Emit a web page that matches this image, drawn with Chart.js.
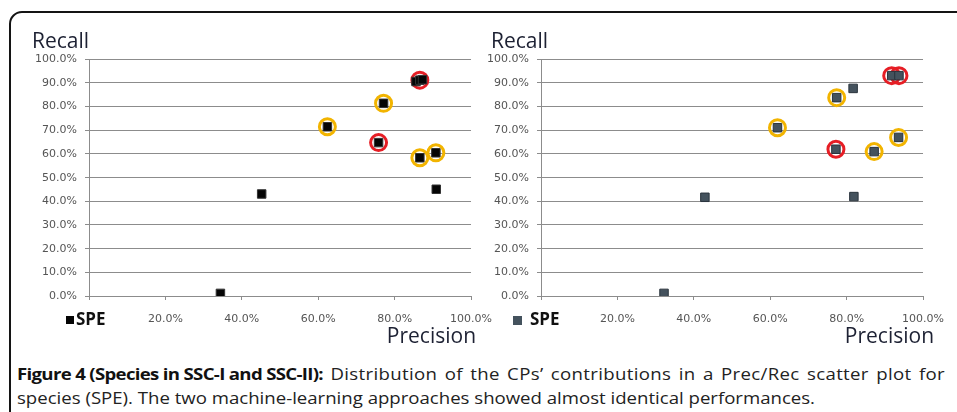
<!DOCTYPE html>
<html>
<head>
<meta charset="utf-8">
<script src="https://cdn.jsdelivr.net/npm/chart.js@4.4.1/dist/chart.umd.min.js"></script>
<style>
  html, body { margin: 0; padding: 0; background: #fff; }
  body { width: 957px; height: 412px; overflow: hidden; position: relative; }
  #frame {
    position: absolute; left: 9px; top: 11px; width: 1000px; height: 500px;
    border: 2px solid #141414; border-top-left-radius: 13px; box-sizing: border-box;
  }
  .plot { position: absolute; top: 20px; height: 330px; }
  #plotA { left: 14px; width: 491px; }
  #plotB { left: 480px; width: 477px; }
  #caption {
    position: absolute; left: 17px; top: 362px; white-space: nowrap;
    font-family: "Open Sans", sans-serif; font-size: 16px; line-height: 24px; color: #222;
    transform-origin: 0 0;
  }
  #caption b { color: #111; }
  #caption span { display: inline-block; }
</style>
</head>
<body>
<div id="frame"></div>
<div class="plot" id="plotA"><canvas id="sscOne"></canvas></div>
<div class="plot" id="plotB"><canvas id="sscTwo"></canvas></div>
<div id="caption">
  <div><span id="line1"><b id="capBold">Figure 4 (Species in SSC-I and SSC-II):</b><span id="capRest">&nbsp;Distribution of the CPs’ contributions in a Prec/Rec scatter plot for</span></span></div>
  <div><span id="line2">species (SPE). The two machine-learning approaches showed almost identical performances.</span></div>
</div>
<script>
// values, in percent
const ssc1Precision = [85.6, 86.6, 87.3, 77.1, 62.4, 75.8, 86.6, 90.8, 90.9, 45.2, 34.4];
const ssc1Recall    = [90.6, 91.2, 91.4, 81.4, 71.5, 64.8, 58.4, 60.5, 45.1, 43.1, 1.1];
const ssc1Ring      = ['', 'red', '', 'yellow', 'yellow', 'red', 'yellow', 'yellow', '', '', ''];

const ssc2Precision = [91.8, 93.7, 81.7, 77.4, 61.9, 93.6, 77.2, 87.2, 81.9, 42.9, 32.2];
const ssc2Recall    = [93.1, 93.1, 87.7, 83.8, 71.1, 67.0, 62.0, 61.0, 42.0, 41.7, 1.1];
const ssc2Ring      = ['red', 'red', '', 'yellow', 'yellow', 'yellow', 'red', 'yellow', '', '', ''];

const xTicks = [0, 20, 40, 60, 80, 100];
const yTicks = [0, 10, 20, 30, 40, 50, 60, 70, 80, 90, 100];

const ringColors = { yellow: '#f2b400', red: '#e61e25' };
const gridColor = '#8c8c8c';

const chartText = {
    id: 'chartText',
    afterDraw(chart, args, opts) {
        const { ctx, chartArea } = chart;
        const ds = chart.data.datasets[0];
        ctx.save();
        ctx.fillStyle = '#1d2133';
        ctx.font = '21px "Open Sans"';
        ctx.textBaseline = 'alphabetic';
        ctx.textAlign = 'left';
        ctx.fillText(opts.yTitle, chartArea.left + opts.yTitleX, chartArea.top - 11);
        ctx.textAlign = 'right';
        ctx.fillText(opts.xTitle, chartArea.right + opts.xTitleX, chartArea.bottom + 47);

        // legend
        ctx.fillStyle = ds.backgroundColor;
        ctx.fillRect(chartArea.left + opts.legendX, chartArea.bottom + 20, opts.legendBox, opts.legendBox);
        ctx.fillStyle = '#111';
        ctx.font = 'bold 17px "Open Sans"';
        ctx.textAlign = 'left';
        ctx.fillText(ds.label, chartArea.left + opts.legendTextX, chartArea.bottom + 29);
        ctx.restore();
    }
};

function makeChart(canvasId, prec, rec, ring, squareColor, squareBorder, axisWidth, padRight, text) {
    const points = prec.map((p, i) => ({ x: p, y: rec[i] }));
    const ringSet = (name) => points.filter((pt, i) => ring[i] === name);

    const datasets = [{
        label: 'SPE',
        data: points,
        pointStyle: 'rect',
        pointRadius: 6,
        backgroundColor: squareColor,
        borderColor: squareBorder,
        borderWidth: 1
    }];
    ['yellow', 'red'].forEach(name => {
        datasets.push({
            label: name,
            data: ringSet(name),
            pointStyle: 'circle',
            pointRadius: 8,
            backgroundColor: 'rgba(0,0,0,0)',
            borderColor: ringColors[name],
            borderWidth: 3
        });
    });

    return new Chart(document.getElementById(canvasId), {
        type: 'scatter',
        data: { datasets: datasets },
        plugins: [chartText],
        options: {
            responsive: true,
            maintainAspectRatio: false,
            animation: false,
            events: [],
            layout: { padding: { top: 39.3, right: padRight, left: 0, bottom: 0 } },
            plugins: {
                legend: { display: false },
                tooltip: { enabled: false },
                chartText: text
            },
            scales: {
                x: {
                    type: 'linear',
                    min: 0, max: 100,
                    afterBuildTicks: (s) => { s.ticks = xTicks.map(v => ({ value: v })); },
                    afterFit: (s) => { s.height = 54; },
                    ticks: {
                        callback: (v) => v === 0 ? '' : v.toFixed(1) + '%',
                        font: { family: 'DejaVu Sans', size: 11 },
                        color: '#555',
                        padding: 13,
                        maxRotation: 0
                    },
                    grid: { drawOnChartArea: false, drawTicks: true, tickLength: 4, color: gridColor },
                    border: { display: true, color: gridColor }
                },
                y: {
                    type: 'linear',
                    min: 0, max: 100,
                    afterBuildTicks: (s) => { s.ticks = yTicks.map(v => ({ value: v })); },
                    afterFit: (s) => { s.width = axisWidth; },
                    ticks: {
                        callback: (v) => v.toFixed(1) + '%',
                        font: { family: 'DejaVu Sans', size: 11 },
                        color: '#555',
                        padding: 8
                    },
                    grid: { drawTicks: true, tickLength: 4, color: gridColor },
                    border: { display: true, color: gridColor }
                }
            }
        }
    });
}

makeChart('sscOne', ssc1Precision, ssc1Recall, ssc1Ring, '#050505', '#333', 75, 27,
    { yTitle: 'Recall', xTitle: 'Precision', yTitleX: -57, xTitleX: 5, legendX: -23, legendTextX: -13, legendBox: 8 });
makeChart('sscTwo', ssc2Precision, ssc2Recall, ssc2Ring, '#44525d', '#2a343d', 61, 26.3,
    { yTitle: 'Recall', xTitle: 'Precision', yTitleX: -50, xTitleX: 11, legendX: -28, legendTextX: -11, legendBox: 9 });

// fit caption: second line sets the scale, first line is justified
const cap = document.getElementById('caption');
const capBold = document.getElementById('capBold');
const capRest = document.getElementById('capRest');
const s = 798 / document.getElementById('line2').getBoundingClientRect().width;
cap.style.transform = 'scaleX(' + s + ')';
const boldText = capBold.textContent;
const wb = capBold.getBoundingClientRect().width / s;
capBold.style.letterSpacing = ((306 / s - wb) / boldText.length) + 'px';
const w1 = document.getElementById('line1').getBoundingClientRect().width / s;
const restText = capRest.textContent;
const spaces = (restText.match(/[ \u00a0]/g) || []).length;
const extra = 928 / s - w1;
capRest.style.wordSpacing = (extra * 0.5 / spaces) + 'px';
capRest.style.letterSpacing = (extra * 0.5 / restText.length) + 'px';
</script>
</body>
</html>
